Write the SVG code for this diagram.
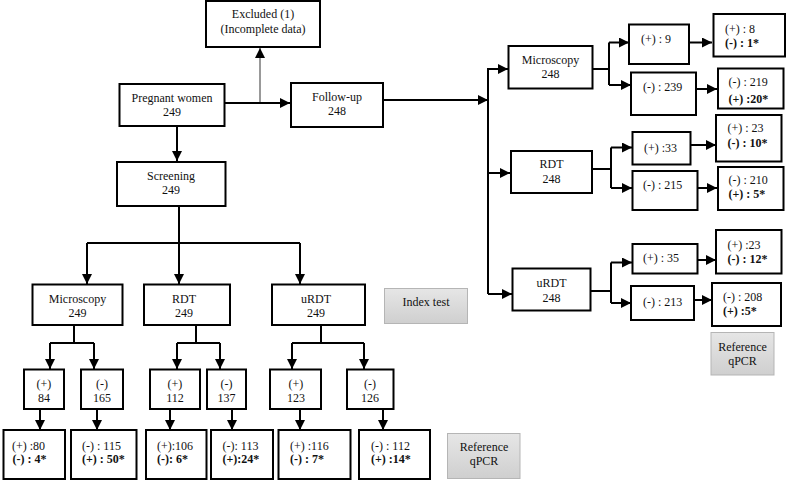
<svg xmlns="http://www.w3.org/2000/svg" width="786" height="480" viewBox="0 0 786 480">
<style>
.box{fill:#fff;stroke:#000;stroke-width:2}
.gbox{fill:url(#g);stroke:#b5b5b5;stroke-width:1}
text{font-family:"Liberation Serif","Times New Roman",serif;font-size:12px;fill:#111}
.c{text-anchor:middle}
.b{font-weight:bold}
.ln{fill:none;stroke:#000;stroke-width:2}
.ar{marker-end:url(#ah)}
</style>
<defs>
<marker id="ah" markerUnits="userSpaceOnUse" markerWidth="10" markerHeight="10" refX="10" refY="5" orient="auto" viewBox="0 0 10 10">
<path d="M0,0 L10,5 L0,10 z" fill="#000"/>
</marker>
<linearGradient id="g" x1="0" y1="0" x2="0" y2="1">
<stop offset="0" stop-color="#e6e6e6"/>
<stop offset="1" stop-color="#cfcfcf"/>
</linearGradient>
</defs>

<g id="connectors">
<!-- top -->
<path class="ln" d="M260,103 V48" stroke="#999" style="stroke:#999" marker-end="url(#ah)"/>
<path class="ln ar" d="M224,103 H290"/>
<path class="ln ar" d="M177,126 V161"/>
<path class="ln" d="M179,206 V243"/>
<path class="ln" d="M87,243 H300"/>
<path class="ln ar" d="M87,243 V284"/>
<path class="ln ar" d="M179,243 V284"/>
<path class="ln ar" d="M300,243 V284"/>
<!-- microscopy screening -->
<path class="ln" d="M74,325 V343 M50,343 H94"/>
<path class="ln ar" d="M50,343 V369"/>
<path class="ln ar" d="M94,343 V369"/>
<path class="ln ar" d="M40,409 V430"/>
<path class="ln ar" d="M97,409 V430"/>
<!-- rdt screening -->
<path class="ln" d="M196,325 V343 M177,343 H220"/>
<path class="ln ar" d="M177,343 V369"/>
<path class="ln ar" d="M220,343 V369"/>
<path class="ln ar" d="M170,409 V430"/>
<path class="ln ar" d="M232,409 V430"/>
<!-- urdt screening -->
<path class="ln" d="M321,325 V343 M292,343 H364"/>
<path class="ln ar" d="M292,343 V369"/>
<path class="ln ar" d="M364,343 V369"/>
<path class="ln ar" d="M300,409 V430"/>
<path class="ln ar" d="M383,409 V430"/>
<!-- follow-up -->
<path class="ln ar" d="M383,100 H488"/>
<path class="ln" d="M488,68 V294"/>
<path class="ln ar" d="M488,69 H508"/>
<path class="ln ar" d="M488,173 H510"/>
<path class="ln ar" d="M488,294 H512"/>
<!-- microscopy fu -->
<path class="ln" d="M593,69 H609 M609,42.5 V85"/>
<path class="ln ar" d="M609,42.5 H629"/>
<path class="ln ar" d="M609,85 H631"/>
<path class="ln ar" d="M689,42.5 H712"/>
<path class="ln ar" d="M696,89 H717"/>
<!-- rdt fu -->
<path class="ln" d="M592,169 H611 M611,147.5 V188"/>
<path class="ln ar" d="M611,147.5 H632"/>
<path class="ln ar" d="M611,188 H632"/>
<path class="ln ar" d="M691,145 H716"/>
<path class="ln ar" d="M698,188 H717"/>
<!-- urdt fu -->
<path class="ln" d="M591,291 H611 M611,262.5 V303"/>
<path class="ln ar" d="M611,262.5 H632"/>
<path class="ln ar" d="M611,303 H631"/>
<path class="ln ar" d="M697,260 H716"/>
<path class="ln ar" d="M693,300 H712"/>
</g>

<g id="excluded"><rect class="box" x="206" y="1" width="114" height="46"/><text class="c" x="263" y="18">Excluded (1)</text><text class="c" x="263" y="33">(Incomplete data)</text></g>
<g id="pregnant"><rect class="box" x="119.5" y="84" width="105" height="42"/><text class="c" x="172" y="102">Pregnant women</text><text class="c" x="172" y="116">249</text></g>
<g id="followup"><rect class="box" x="291" y="83" width="92" height="44"/><text class="c" x="337" y="101">Follow-up</text><text class="c" x="337" y="115">248</text></g>
<g id="screening"><rect class="box" x="117" y="162" width="108.5" height="44"/><text class="c" x="171" y="180">Screening</text><text class="c" x="171" y="194">249</text></g>

<g id="s-micro"><rect class="box" x="32.5" y="284.5" width="90" height="40.5"/><text class="c" x="77.5" y="303">Microscopy</text><text class="c" x="77.5" y="317">249</text></g>
<g id="s-rdt"><rect class="box" x="144" y="284.5" width="86" height="40.5"/><text class="c" x="184" y="303">RDT</text><text class="c" x="184" y="317">249</text></g>
<g id="s-urdt"><rect class="box" x="272" y="284.5" width="93" height="40.5"/><text class="c" x="316" y="303">uRDT</text><text class="c" x="316" y="317">249</text></g>
<g id="index-test"><rect class="gbox" x="384.5" y="288.5" width="83" height="35"/><text class="c" x="426" y="305.5">Index test</text></g>

<g id="s-micro-pos"><rect class="box" x="24" y="369.5" width="40" height="39.5"/><text class="c" x="44" y="388">(+)</text><text class="c" x="44" y="402">84</text></g>
<g id="s-micro-neg"><rect class="box" x="81" y="369.5" width="42" height="39.5"/><text class="c" x="102" y="388">(-)</text><text class="c" x="102" y="402">165</text></g>
<g id="s-rdt-pos"><rect class="box" x="150" y="369.5" width="50" height="39.5"/><text class="c" x="175" y="388">(+)</text><text class="c" x="175" y="402">112</text></g>
<g id="s-rdt-neg"><rect class="box" x="207" y="369.5" width="39" height="39.5"/><text class="c" x="226.5" y="388">(-)</text><text class="c" x="226.5" y="402">137</text></g>
<g id="s-urdt-pos"><rect class="box" x="270" y="369.5" width="51" height="39.5"/><text class="c" x="296" y="388">(+)</text><text class="c" x="296" y="402">123</text></g>
<g id="s-urdt-neg"><rect class="box" x="347" y="369.5" width="46.5" height="39.5"/><text class="c" x="370" y="388">(-)</text><text class="c" x="370" y="402">126</text></g>

<g id="q1"><rect class="box" x="3.5" y="430" width="61.5" height="49"/><text x="12" y="449.5">(+) :80</text><text class="b" x="12.5" y="463">(-) : 4*</text></g>
<g id="q2"><rect class="box" x="71" y="430" width="65.5" height="49"/><text x="82" y="449.5">(-) : 115</text><text class="b" x="82" y="463">(+) : 50*</text></g>
<g id="q3"><rect class="box" x="146" y="430" width="60.5" height="49"/><text x="157" y="449.5">(+):106</text><text class="b" x="157" y="463">(-): 6*</text></g>
<g id="q4"><rect class="box" x="211" y="430" width="62" height="49"/><text x="222.5" y="449.5">(-): 113</text><text class="b" x="222.5" y="463">(+):24*</text></g>
<g id="q5"><rect class="box" x="278.5" y="430" width="72" height="49"/><text x="290" y="449.5">(+) :116</text><text class="b" x="290" y="463">(-) : 7*</text></g>
<g id="q6"><rect class="box" x="359" y="430" width="71" height="49"/><text x="371" y="449.5">(-) : 112</text><text class="b" x="371" y="463">(+) :14*</text></g>
<g id="ref-qpcr-bottom"><rect class="gbox" x="447.5" y="433.5" width="72.5" height="45"/><text class="c" x="484" y="450.5">Reference</text><text class="c" x="484" y="464.5">qPCR</text></g>

<g id="f-micro"><rect class="box" x="508.5" y="46" width="84" height="42.5"/><text class="c" x="550.5" y="64">Microscopy</text><text class="c" x="550.5" y="78">248</text></g>
<g id="f-rdt"><rect class="box" x="511" y="151" width="81" height="42"/><text class="c" x="551.5" y="168">RDT</text><text class="c" x="551.5" y="182.5">248</text></g>
<g id="f-urdt"><rect class="box" x="512.5" y="268.5" width="78" height="42"/><text class="c" x="551.5" y="287">uRDT</text><text class="c" x="551.5" y="301.5">248</text></g>

<g id="f-micro-pos"><rect class="box" x="629" y="24.5" width="60" height="39.5"/><text x="641" y="43">(+) : 9</text></g>
<g id="f-micro-neg"><rect class="box" x="631" y="72.5" width="65" height="42.5"/><text x="643" y="90.5">(-) : 239</text></g>
<g id="f-rdt-pos"><rect class="box" x="632.5" y="132" width="58" height="32.5"/><text x="644" y="151.5">(+) :33</text></g>
<g id="f-rdt-neg"><rect class="box" x="632.5" y="171" width="65" height="39"/><text x="643" y="189">(-) : 215</text></g>
<g id="f-urdt-pos"><rect class="box" x="632.5" y="244" width="65" height="29.5"/><text x="643" y="262">(+) : 35</text></g>
<g id="f-urdt-neg"><rect class="box" x="631" y="286" width="63" height="34"/><text x="643" y="305.5">(-) : 213</text></g>

<g id="fq1"><rect class="box" x="713.5" y="14" width="71.5" height="42.5"/><text x="725" y="32.5">(+) : 8</text><text class="b" x="725" y="47">(-) : 1*</text></g>
<g id="fq2"><rect class="box" x="718" y="68.5" width="65.5" height="40"/><text x="728.5" y="85.5">(-) : 219</text><text class="b" x="728.5" y="103">(+) :20*</text></g>
<g id="fq3"><rect class="box" x="716" y="115" width="65.5" height="46.5"/><text x="727.5" y="132">(+) : 23</text><text class="b" x="727.5" y="147">(-) : 10*</text></g>
<g id="fq4"><rect class="box" x="718" y="167" width="65.5" height="43"/><text x="728.5" y="184">(-) : 210</text><text class="b" x="728.5" y="198">(+) : 5*</text></g>
<g id="fq5"><rect class="box" x="716" y="230" width="65.5" height="43.5"/><text x="727.5" y="249">(+) :23</text><text class="b" x="727.5" y="263">(-) : 12*</text></g>
<g id="fq6"><rect class="box" x="712" y="283" width="69" height="43"/><text x="723" y="300.5">(-) : 208</text><text class="b" x="723" y="314.5">(+) :5*</text></g>
<g id="ref-qpcr-right"><rect class="gbox" x="711" y="332.5" width="63" height="42.5"/><text class="c" x="742.5" y="350.5">Reference</text><text class="c" x="742.5" y="364.5">qPCR</text></g>
</svg>
